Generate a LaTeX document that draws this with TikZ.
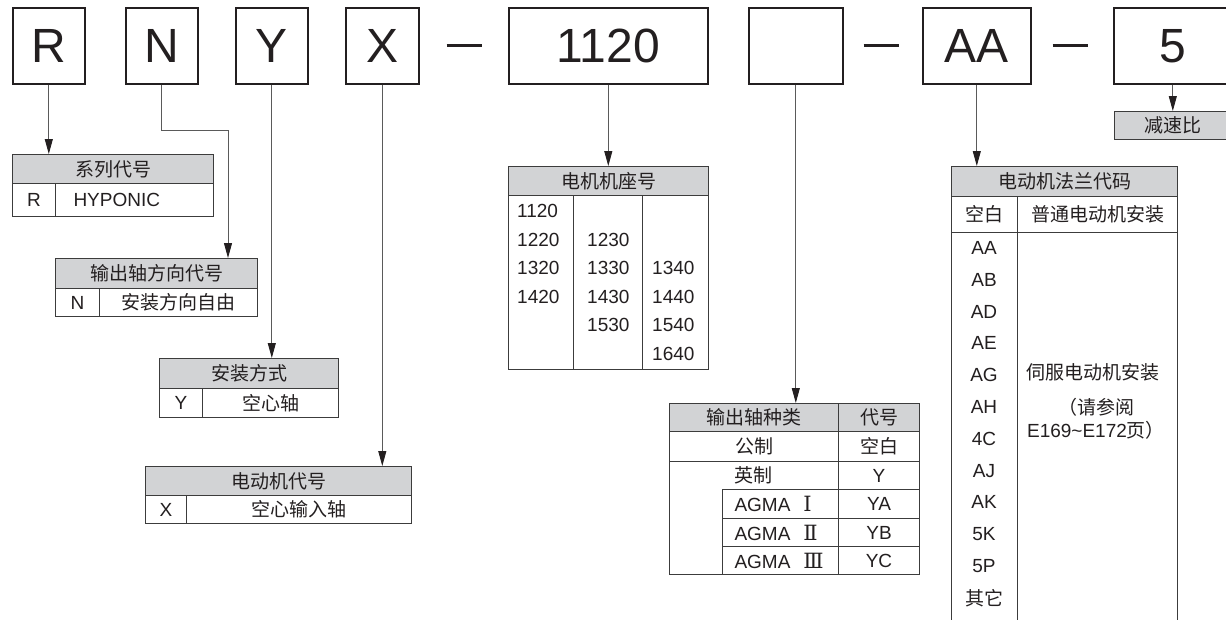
\documentclass[tikz,border=0pt]{standalone}
\usepackage{fontspec}
\setmainfont{Liberation Sans}
\newfontfamily\cjk{Noto Sans CJK SC}
\newfontfamily\romanfont{DejaVu Serif}
\usetikzlibrary{arrows.meta,calc,positioning}
\definecolor{boxInk}{HTML}{231F20}
\definecolor{tabInk}{HTML}{3C3C3C}
\definecolor{headGray}{HTML}{D2D3D5}
\definecolor{linkGray}{HTML}{5A5A5A}
\newcommand{\zh}[1]{{\cjk #1}}
\newcommand{\tabfont}{\fontsize{19}{23}\selectfont}
\tikzset{
 code/.style={draw=boxInk,line width=1.6pt,fill=white,minimum height=76pt,inner sep=0pt,anchor=north west,
   text=boxInk,font=\fontsize{48}{50}\selectfont},
 head/.style={draw=tabInk,fill=headGray,line width=1pt,inner sep=0pt,anchor=north west,text=boxInk,font=\tabfont},
 cell/.style={draw=tabInk,fill=white,line width=1pt,inner sep=0pt,anchor=north west,text=boxInk,font=\tabfont},
 entry/.style={inner sep=0pt,text=boxInk,font=\tabfont},
 feed/.style={draw=linkGray,line width=.9pt,-{Triangle[length=15pt,width=8pt,color=boxInk]}},
 bar/.style={draw=boxInk,line width=3pt}
}
\begin{document}
\begin{tikzpicture}[x=1pt,y=-1pt]
 \fill[white] (0,0) rectangle (1226,619);
 \useasboundingbox (0,0) rectangle (1226,619);
 \node[code,minimum width=72pt] (Rbox) at (12,7) {R};
 \node[code,minimum width=72pt] (Nbox) at (125,7) {N};
 \node[code,minimum width=72pt] (Ybox) at (235,7) {Y};
 \node[code,minimum width=73pt] (Xbox) at (345,7) {X};
 \node[code,minimum width=199pt] (Mbox) at (508,7) {1120};
 \node[code,minimum width=94pt] (Sbox) at (748,7) {};
 \node[code,minimum width=108pt] (Fbox) at (922,7) {AA};
 \node[code,minimum width=118pt] (Gbox) at (1113,7) {5};
 \draw[bar,shorten <=27pt,shorten >=26pt] (Xbox.east) -- (Mbox.west);
 \draw[bar,shorten <=20pt,shorten >=23pt] (Sbox.east) -- (Fbox.west);
 \draw[bar,shorten <=21pt,shorten >=25pt] (Fbox.east) -- (Gbox.west);

 \node[head,minimum width=201pt,minimum height=29pt] (tabR) at (12,154) {\zh{系列代号}};
 \node[cell,minimum width=43pt,minimum height=33pt] (tabRa) at (12,183) {R};
 \node[cell,minimum width=158pt,minimum height=33pt,align=left,text width=122pt,inner xsep=18pt] (tabRb) at (55,183) {HYPONIC};

 \node[head,minimum width=202pt,minimum height=30pt] (tabN) at (55,258) {\zh{输出轴方向代号}};
 \node[cell,minimum width=44pt,minimum height=28pt] (tabNa) at (55,288) {N};
 \node[cell,minimum width=158pt,minimum height=28pt] (tabNb) at (99,288) {\zh{安装方向自由}};

 \node[head,minimum width=179pt,minimum height=30pt] (tabY) at (159,358) {\zh{安装方式}};
 \node[cell,minimum width=43pt,minimum height=29pt] (tabYa) at (159,388) {Y};
 \node[cell,minimum width=136pt,minimum height=29pt] (tabYb) at (202,388) {\zh{空心轴}};

 \node[head,minimum width=266pt,minimum height=29pt] (tabX) at (145,466) {\zh{电动机代号}};
 \node[cell,minimum width=41pt,minimum height=28pt] (tabXa) at (145,495) {X};
 \node[cell,minimum width=225pt,minimum height=28pt] (tabXb) at (186,495) {\zh{空心输入轴}};

 \node[head,minimum width=200pt,minimum height=29pt] (tabM) at (508,166) {\zh{电机机座号}};
 \node[cell,minimum width=65pt,minimum height=174pt] (tabMa) at (508,195) {};
 \node[cell,minimum width=69pt,minimum height=174pt] (tabMb) at (573,195) {};
 \node[cell,minimum width=66pt,minimum height=174pt] (tabMc) at (642,195) {};
 \foreach \t [count=\i] in {1120,1220,1320,1420}
   \node[entry,anchor=west] (ma\i) at (517,{182.5+28.5*\i}) {\t};
 \foreach \t [count=\i] in {1230,1330,1430,1530}
   \node[entry,anchor=west] (mb\i) at (587,{211+28.5*\i}) {\t};
 \foreach \t [count=\i] in {1340,1440,1540,1640}
   \node[entry,anchor=west] (mc\i) at (652,{239.5+28.5*\i}) {\t};

 \node[head,minimum width=169pt,minimum height=28pt] (tabG) at (669,403) {\zh{输出轴种类}};
 \node[head,minimum width=81pt,minimum height=28pt] (tabGb) at (838,403) {\zh{代号}};
 \node[cell,minimum width=169pt,minimum height=30pt] (tabGm) at (669,431) {\zh{公制}};
 \node[cell,minimum width=81pt,minimum height=30pt] (tabGmb) at (838,431) {\zh{空白}};
 \node[cell,minimum width=169pt,minimum height=113pt] (tabGi) at (669,461) {};
 \node[entry] (imp) at (753,475) {\zh{英制}};
 \node[cell,minimum width=81pt,minimum height=28pt] (tabGy) at (838,461) {Y};
 \foreach \n/\y/\h/\r/\c in {1/489/29/Ⅰ/YA,2/518/28/Ⅱ/YB,3/546/28/Ⅲ/YC}{
   \node[cell,minimum width=116pt,minimum height=\h pt,align=left,text width=92pt,inner xsep=12pt] (agma\n) at (722,\y) {AGMA\hspace{13pt}{\romanfont\fontsize{21}{22}\selectfont\r}};
   \node[cell,minimum width=81pt,minimum height=\h pt] (yc\n) at (838,\y) {\c};
 }

 \node[head,minimum width=226pt,minimum height=30pt] (tabF) at (951,166) {\zh{电动机法兰代码}};
 \node[cell,minimum width=66pt,minimum height=36pt] (tabFa) at (951,196) {\zh{空白}};
 \node[cell,minimum width=160pt,minimum height=36pt] (tabFb) at (1017,196) {\zh{普通电动机安装}};
 \node[cell,minimum width=66pt,minimum height=410pt] (tabFc) at (951,232) {};
 \node[cell,minimum width=160pt,minimum height=410pt] (tabFd) at (1017,232) {};
 \foreach \t [count=\i] in {AA,AB,AD,AE,AG,AH,4C,AJ,AK,5K,5P,\zh{其它}}
   \node[entry] (fc\i) at (984,{216.2+31.8*\i}) {\t};
 \node[entry] (servo) at (1093,372) {\zh{伺服电动机安装}};
 \node[entry,align=center] (see) at (1096,419) {\zh{（请参阅}\\E169\textasciitilde E172\zh{页）}};

 \node[head,minimum width=116pt,minimum height=28pt] (tabS) at (1114,111) {\zh{减速比}};

 \coordinate (nbend) at (228,130);
 \draw[feed] (Rbox.south) -- (Rbox.south |- tabR.north);
 \draw[feed] (Nbox.south) |- (nbend) -- (nbend |- tabN.north);
 \draw[feed] (Ybox.south) -- (Ybox.south |- tabY.north);
 \draw[feed] (Xbox.south) -- (Xbox.south |- tabX.north);
 \draw[feed] (Mbox.south) -- (Mbox.south |- tabM.north);
 \draw[feed] (Sbox.south) -- (Sbox.south |- tabG.north);
 \draw[feed] (Fbox.south) -- (Fbox.south |- tabF.north);
 \draw[feed] (Gbox.south) -- (Gbox.south |- tabS.north);
\end{tikzpicture}
\end{document}
